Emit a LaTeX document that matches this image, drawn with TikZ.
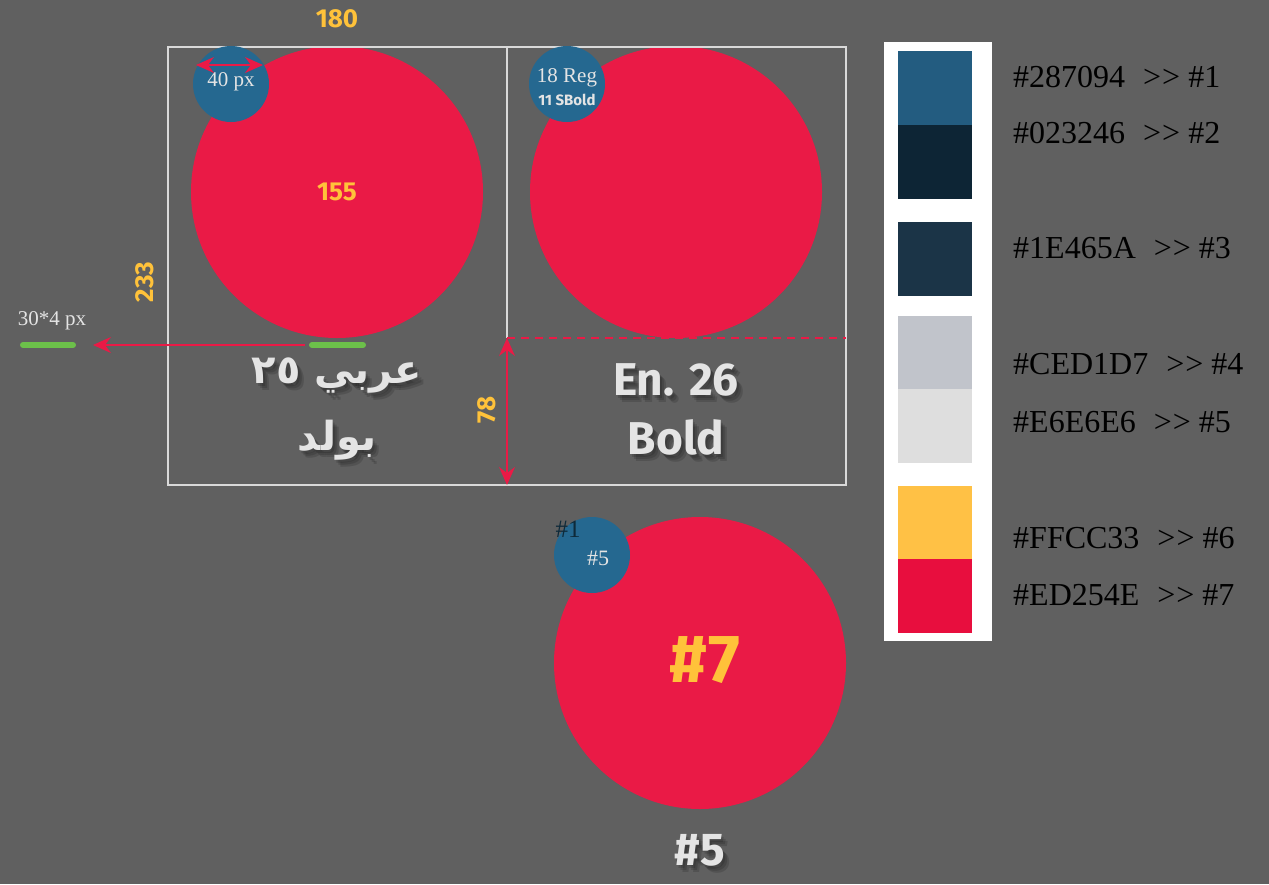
\documentclass[tikz,border=0pt]{standalone}
\usepackage{fontspec}
\setmainfont{Liberation Serif}
\newfontfamily\sansb{Fira Sans}
\newfontfamily\arabicfont[Script=Arabic]{DejaVu Sans}
\TeXXeTstate=1
\usetikzlibrary{arrows.meta}
\definecolor{bg}{HTML}{606060}
\definecolor{cred}{HTML}{EA1A46}
\definecolor{cblue}{HTML}{256890}
\definecolor{cyel}{HTML}{FFC23A}
\definecolor{cframe}{HTML}{D9D9D9}
\definecolor{ctxt}{HTML}{E4E4E4}
\definecolor{cgreen}{HTML}{6CC04A}
\definecolor{sw1}{HTML}{235C80}
\definecolor{sw2}{HTML}{0D2535}
\definecolor{sw3}{HTML}{1B3447}
\definecolor{sw4}{HTML}{C1C4CB}
\definecolor{sw5}{HTML}{DEDEDE}
\definecolor{sw6}{HTML}{FFC145}
\definecolor{sw7}{HTML}{E80E3E}
\definecolor{cdark}{HTML}{0E2A3A}
\tikzset{
  bigdot/.style={circle, fill=cred, minimum size=292pt, inner sep=0pt},
  smalldot/.style={circle, fill=cblue, minimum size=76pt, inner sep=0pt},
  frameline/.style={draw=cframe, line width=2pt},
  redtip/.tip={Stealth[length=18pt,width=16pt,inset=6pt]},
  redarrow/.style={draw=cred, line width=1.5pt, -redtip},
  reddbl/.style={draw=cred, line width=1.5pt, redtip-redtip},
  greenbar/.style={draw=cgreen, line width=6pt, line cap=round},
  yellab/.style={text=cyel, font=\sansb\bfseries\fontsize{26}{30}\selectfont, inner sep=0pt},
  bigtxt/.style={text=ctxt, font=\sansb\bfseries\fontsize{46}{50}\selectfont, inner sep=0pt},
  shadowtxt/.style={text=black, opacity=0.14, font=\sansb\bfseries\fontsize{46}{50}\selectfont, inner sep=0pt},
  artxt/.style={text=ctxt, font=\arabicfont\bfseries\fontsize{40}{46}\selectfont, inner sep=0pt},
  arshadow/.style={text=black, opacity=0.14, font=\arabicfont\bfseries\fontsize{40}{46}\selectfont, inner sep=0pt},
  serifsm/.style={font=\fontsize{21}{24}\selectfont, inner sep=0pt},
  swatch/.style={minimum width=74pt, minimum height=74pt, inner sep=0pt},
  paltxt/.style={anchor=west, text=black, font=\fontsize{32}{34}\selectfont, inner sep=0pt},
}
\newcommand\palline[2]{\##1\hspace{18pt}{>}\kern1pt{>}\hspace{8pt}\##2}
\begin{document}
\begin{tikzpicture}[x=1pt,y=-1pt]
\fill[bg] (0,0) rectangle (1269,884);
\useasboundingbox (0,0) rectangle (1269,884);

% big circles
\node[bigdot] (c1) at (337,192) {};
\node[bigdot] (c2) at (676,192) {};
\node[bigdot] (c3) at (700,663) {};

% frame
\draw[frameline] (168,47) rectangle (846,485);
\coordinate (midtop) at (507,47);
\coordinate (midbot) at (507,338);
\coordinate (frbot) at (507,485);
\coordinate (dashend) at (846,338);
\draw[frameline] (midtop) -- (midbot);
\draw[draw=cred, line width=1.5pt, dash pattern=on 8pt off 6pt] (midbot) -- (dashend);
\draw[reddbl] (midbot) -- (frbot);

% small circles
\node[smalldot] (s1) at (231,84) {};
\node[smalldot] (s2) at (567,84) {};
\node[smalldot] (s3) at (592,555) {};

\node[serifsm, text=ctxt] (t40) at (231,82) {40 px};
\coordinate (a40l) at (196,65);
\coordinate (a40r) at (263,65);
\draw[reddbl] (a40l) -- (a40r);

\node[serifsm, text=ctxt] (t18) at (567,78) {18 Reg};
\node[text=ctxt, font=\sansb\bfseries\fontsize{15}{17}\selectfont, inner sep=0pt] (t11) at (567,100) {11 SBold};

\node[text=cdark, font=\fontsize{25}{27}\selectfont, inner sep=0pt] (h1) at (568,529) {\#1};
\node[text=ctxt, font=\fontsize{22}{24}\selectfont, inner sep=0pt] (h5) at (598,558) {\#5};

% yellow labels
\node[yellab] (l180) at (337,19) {180};
\node[yellab] (l155) at (337,192) {155};
\node[yellab, rotate=90] (l233) at (145,282) {233};
\node[yellab, rotate=90] (l78) at (487,410) {78};
\node[text=cyel, font=\sansb\bfseries\fontsize{68}{72}\selectfont, inner sep=0pt] (l7) at (705,660) {\#7};

% green bars and arrow
\coordinate (g1a) at (23,345);
\coordinate (g1b) at (73,345);
\coordinate (g2a) at (312,345);
\coordinate (g2b) at (363,345);
\draw[greenbar] (g1a) -- (g1b);
\draw[greenbar] (g2a) -- (g2b);
\coordinate (arS) at (305,345);
\coordinate (arE) at (93,345);
\draw[redarrow] (arS) -- (arE);
\node[serifsm, text=ctxt] (t304) at (52,321) {30*4 px};

% shadows
\foreach \dx/\dy in {2/3,4/5,6/7}{
  \node[arshadow] at (337+\dx,376+\dy) {\beginR عربي ٢٥\endR};
  \node[arshadow] at (337+\dx,440+\dy) {\beginR بولد\endR};
  \node[shadowtxt] at (676+\dx,380+\dy) {En. 26};
  \node[shadowtxt] at (676+\dx,437+\dy) {Bold};
  \node[shadowtxt] at (700+\dx,850+\dy) {\#5};
}
% Arabic text
\node[artxt] (ar1) at (337,376) {\beginR عربي ٢٥\endR};
\node[artxt] (ar2) at (337,440) {\beginR بولد\endR};

% English text
\node[bigtxt] (en1) at (676,380) {En. 26};
\node[bigtxt] (en2) at (676,437) {Bold};
\node[bigtxt] (b5) at (700,850) {\#5};

% palette
\fill[white] (884,42) rectangle (992,641);
\node[swatch, fill=sw1] (p1) at (935,88) {};
\node[swatch, fill=sw2] (p2) at (935,162) {};
\node[swatch, fill=sw3] (p3) at (935,259) {};
\node[swatch, fill=sw4] (p4) at (935,352.5) {};
\node[swatch, fill=sw5] (p5) at (935,426) {};
\node[swatch, fill=sw6] (p6) at (935,522.5) {};
\node[swatch, fill=sw7] (p7) at (935,596) {};

\node[paltxt] (q1) at (1013,77) {\palline{287094}{1}};
\node[paltxt] (q2) at (1013,133) {\palline{023246}{2}};
\node[paltxt] (q3) at (1013,248) {\palline{1E465A}{3}};
\node[paltxt] (q4) at (1013,364) {\palline{CED1D7}{4}};
\node[paltxt] (q5) at (1013,422) {\palline{E6E6E6}{5}};
\node[paltxt] (q6) at (1013,538) {\palline{FFCC33}{6}};
\node[paltxt] (q7) at (1013,595) {\palline{ED254E}{7}};
\end{tikzpicture}
\end{document}
